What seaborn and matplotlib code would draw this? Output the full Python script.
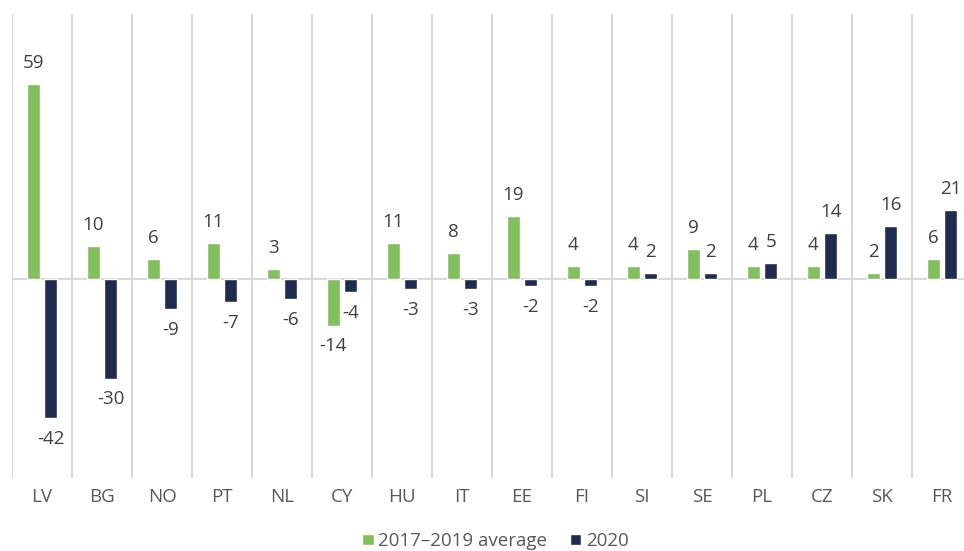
import pandas as pd
import numpy as np
import seaborn as sns
import matplotlib
matplotlib.use('Agg')
import matplotlib.pyplot as plt

# values
countries = ['LV', 'BG', 'NO', 'PT', 'NL', 'CY', 'HU', 'IT', 'EE', 'FI',
             'SI', 'SE', 'PL', 'CZ', 'SK', 'FR']
avg_2017_2019 = [59, 10, 6, 11, 3, -14, 11, 8, 19, 4, 4, 9, 4, 4, 2, 6]
year_2020 = [-42, -30, -9, -7, -6, -4, -3, -3, -2, -2, 2, 2, 5, 14, 16, 21]
series_names = ['2017\u20132019 average', '2020']
colors = ['#82BF5E', '#1F2C50']

df = pd.DataFrame({
    'country': countries * 2,
    'value': avg_2017_2019 + year_2020,
    'series': [series_names[0]] * len(countries) + [series_names[1]] * len(countries),
})

sns.set_style('white')
plt.rcParams['font.family'] = ['Open Sans', 'DejaVu Sans']

fig = plt.figure(figsize=(9.64, 5.51), dpi=100)
ax = fig.add_axes([12 / 964, 73 / 551, 960 / 964, 464 / 551])

sns.barplot(data=df, x='country', y='value', hue='series', order=countries,
            hue_order=series_names, palette=colors, width=0.58, gap=0.23,
            saturation=1, errorbar=None, ax=ax)

ax.set_ylim(-60, 80)
ax.set_xlim(-0.5, len(countries) - 0.5)
ax.set_xlabel('')
ax.set_ylabel('')
ax.set_yticks([])
for s in ax.spines.values():
    s.set_visible(False)

# category separators and zero line
for b in np.arange(-0.5, len(countries), 1.0):
    ax.axvline(b, color='#D9D9D9', lw=1.5, zorder=0)
ax.axhline(0, color='#D9D9D9', lw=1.5, zorder=0)

ax.tick_params(axis='x', length=0, pad=7, labelsize=13.5, labelcolor='#595959')

# data labels
for cont, vals in zip(ax.containers, [avg_2017_2019, year_2020]):
    for bar, v in zip(cont, vals):
        xc = bar.get_x() + bar.get_width() / 2
        off = 15 if v >= 0 else -15
        ax.annotate(str(v), (xc, v), xytext=(0, off), textcoords='offset points',
                    ha='center', va='center', fontsize=13.5, color='#404040')

handles, labels = ax.get_legend_handles_labels()
ax.legend_.remove()
fig.legend(handles, labels, loc='center', bbox_to_anchor=(0.514, 0.018), ncol=2,
           frameon=False, fontsize=13.5, handlelength=0.6, handleheight=0.6,
           handletextpad=0.25, columnspacing=1.2, labelcolor='#595959')

fig.savefig('out.png', dpi=100)
